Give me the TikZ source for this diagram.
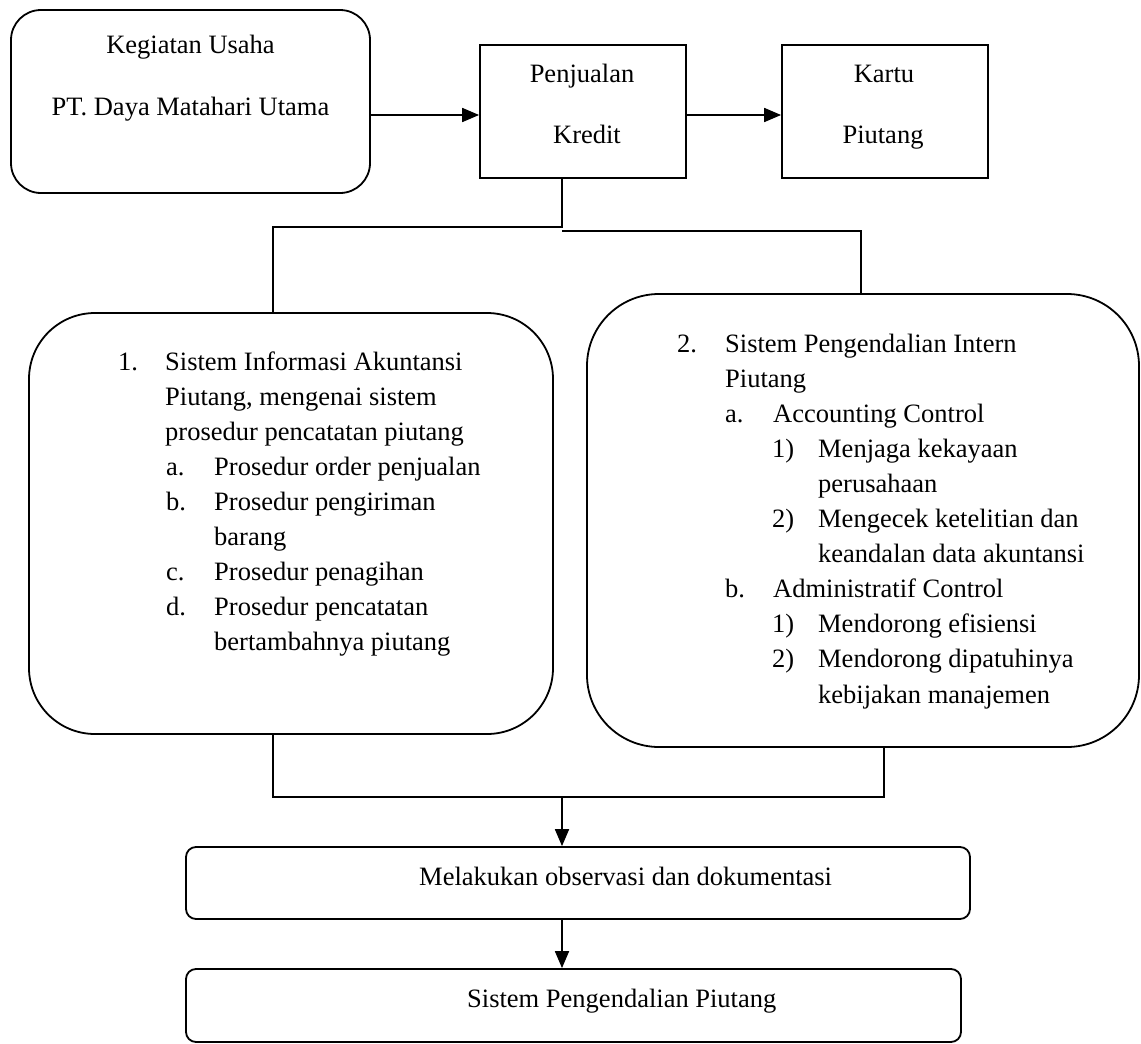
\documentclass[tikz,border=0pt]{standalone}
\usepackage{fontspec}
\setmainfont{Liberation Serif}
\usetikzlibrary{arrows.meta}

\tikzset{
  box/.style={draw, line width=1.8pt, inner sep=0pt, rectangle},
  rbox/.style={box, rounded corners=#1},
  txt/.style={inner sep=0pt, anchor=base west},
  ctxt/.style={inner sep=0pt, anchor=base},
  wire/.style={line width=1.8pt},
  arr/.style={wire, -{Triangle[length=17pt,width=14pt]}},
}
\newcommand{\nr}[2]{\makebox[#1pt][l]{#2}}

\begin{document}
\begin{tikzpicture}[x=1pt, y=-1pt,
  every node/.append style={font=\fontsize{26.5}{35}\selectfont}]
  \useasboundingbox (0,0) rectangle (1141,1044);

  % --- top row ---
  \node[rbox=30pt, minimum width=359pt, minimum height=183pt] (A) at (190.5,101.5) {};
  \node[box, minimum width=206pt, minimum height=133pt] (B) at (583,111.5) {};
  \node[box, minimum width=206pt, minimum height=133pt] (C) at (885,111.5) {};

  \node[ctxt] (a1) at (190.5,53) {Kegiatan Usaha};
  \node[ctxt] (a2) at (190.5,115) {PT. Daya Matahari Utama};
  \node[ctxt] (b1) at (582,82) {Penjualan};
  \node[ctxt] (b2) at (587,143) {Kredit};
  \node[ctxt] (c1) at (884,82) {Kartu};
  \node[ctxt] (c2) at (883,143) {Piutang};

  % --- the two system boxes ---
  \node[rbox=66pt, minimum width=524pt, minimum height=421pt] (D) at (291,523.5) {};
  \node[rbox=72pt, minimum width=552pt, minimum height=453pt] (E) at (863,520.5) {};

  % list of box D
  \node[txt] (d0) at (118,370) {\nr{47}{1.}Sistem Informasi Akuntansi};
  \node[txt] (d1) at (165,405) {Piutang, mengenai sistem};
  \node[txt] (d2) at (165,440) {prosedur pencatatan piutang};
  \node[txt] (d3) at (166,475) {\nr{48}{a.}Prosedur order penjualan};
  \node[txt] (d4) at (166,510) {\nr{48}{b.}Prosedur pengiriman};
  \node[txt] (d5) at (214,545) {barang};
  \node[txt] (d6) at (166,580) {\nr{48}{c.}Prosedur penagihan};
  \node[txt] (d7) at (166,615) {\nr{48}{d.}Prosedur pencatatan};
  \node[txt] (d8) at (214,650) {bertambahnya piutang};

  % list of box E
  \node[txt] (e0) at (677,352) {\nr{48}{2.}Sistem Pengendalian Intern};
  \node[txt] (e1) at (725,387.1) {Piutang};
  \node[txt] (e2) at (725,422.2) {\nr{48}{a.}Accounting Control};
  \node[txt] (e3) at (772,457.3) {\nr{46}{1)}Menjaga kekayaan};
  \node[txt] (e4) at (818,492.4) {perusahaan};
  \node[txt] (e5) at (772,527.5) {\nr{46}{2)}Mengecek ketelitian dan};
  \node[txt] (e6) at (818,562.6) {keandalan data akuntansi};
  \node[txt] (e7) at (725,597.7) {\nr{48}{b.}Administratif Control};
  \node[txt] (e8) at (772,632.8) {\nr{46}{1)}Mendorong efisiensi};
  \node[txt] (e9) at (772,667.9) {\nr{46}{2)}Mendorong dipatuhinya};
  \node[txt] (e10) at (818,703) {kebijakan manajemen};

  % --- bottom boxes ---
  \node[rbox=10pt, minimum width=784pt, minimum height=72pt] (F) at (578,883) {};
  \node[rbox=10pt, minimum width=775pt, minimum height=73pt] (G) at (573.5,1005.5) {};
  \node[txt] (f1) at (419,885) {Melakukan observasi dan dokumentasi};
  \node[txt] (g1) at (467,1007) {Sistem Pengendalian Piutang};

  % --- connectors ---
  \coordinate (splitL) at (562,227);
  \coordinate (splitR) at (562,231);
  \coordinate (leftTop) at (273,227);
  \coordinate (rightTop) at (861,231);
  \coordinate (leftBot) at (273,797);
  \coordinate (rightBot) at (884,797);
  \coordinate (merge) at (562,797);

  \draw[arr] ([yshift=-3.5pt]B.west -| A.east) -- ([yshift=-3.5pt]B.west);
  \draw[arr] ([yshift=-3.5pt]B.east) -- ([yshift=-3.5pt]C.west);

  \draw[wire] (B.south -| splitL) -- (splitL) -- (leftTop) -- (D.north -| leftTop);
  \draw[wire] (splitR) -- (rightTop) -- (E.north -| rightTop);
  \draw[wire] (D.south -| leftBot) -- (leftBot) -- (rightBot) -- (E.south -| rightBot);

  \draw[arr] (merge) -- (F.north -| merge);
  \draw[arr] (F.south -| merge) -- (G.north -| merge);
\end{tikzpicture}
\end{document}
